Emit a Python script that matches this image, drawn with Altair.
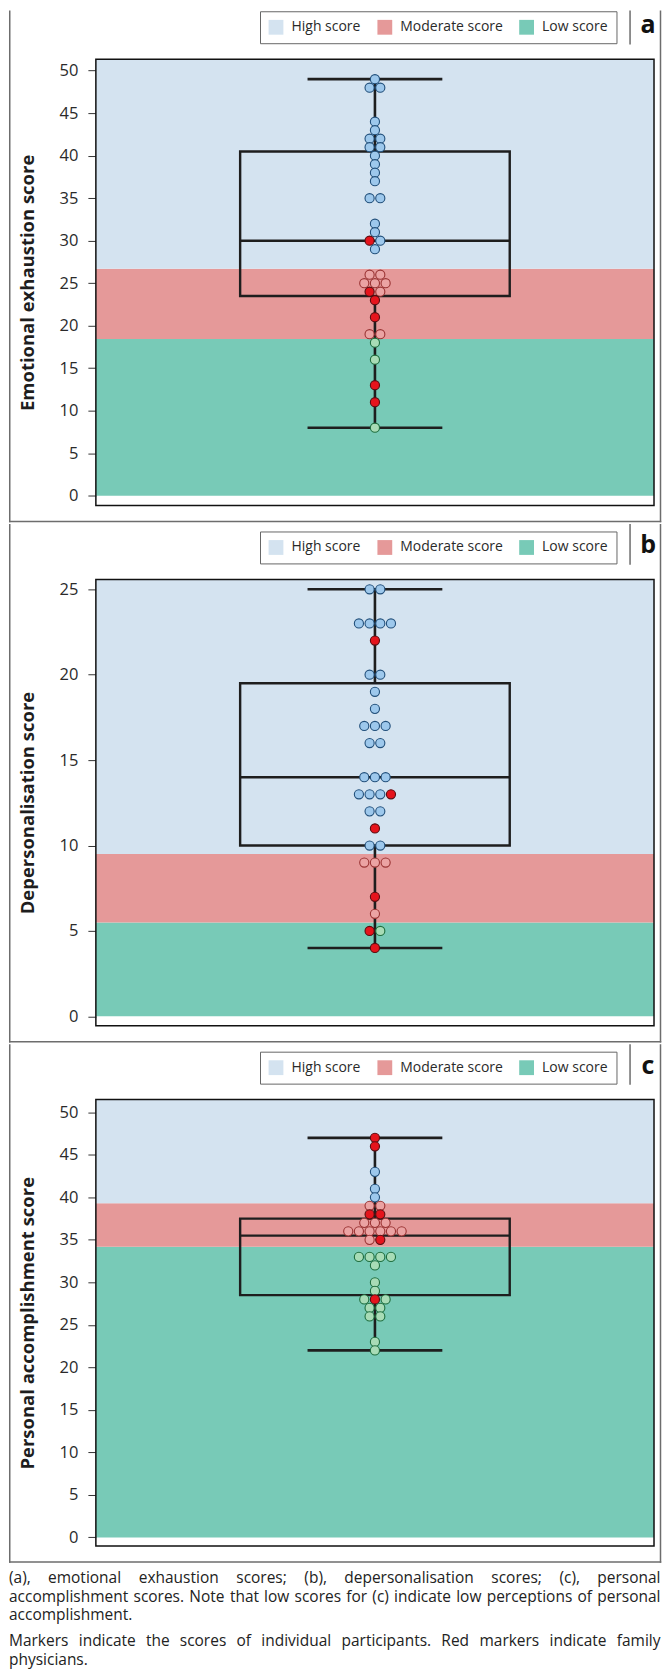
import altair as alt
import numpy as np
import pandas as pd

FONT = "Open Sans"

# ---------------- data ----------------
panel_letters = ["a", "b", "c"]
axis_titles = ["Emotional exhaustion score", "Depersonalisation score",
               "Personal accomplishment score"]

scores_a = [49, 48, 48, 44, 43, 42, 42, 41, 41, 40, 39, 38, 37, 35, 35, 32, 31, 30, 30, 29,
            26, 26, 25, 25, 25, 24, 24, 23, 21, 19, 19, 18, 16, 13, 11, 8]
family_a = [0] * 17 + [1, 0, 0] + [0] * 5 + [1, 0, 1, 1, 0, 0, 0, 0, 1, 1, 0]

scores_b = [25, 25, 23, 23, 23, 23, 22, 20, 20, 19, 18, 17, 17, 17, 16, 16, 14, 14, 14,
            13, 13, 13, 13, 12, 12, 11, 10, 10, 9, 9, 9, 7, 6, 5, 5, 4]
family_b = [0, 0, 0, 0, 0, 0, 1, 0, 0, 0, 0, 0, 0, 0, 0, 0, 0, 0, 0,
            0, 0, 0, 1, 0, 0, 1, 0, 0, 0, 0, 0, 1, 0, 1, 0, 1]

scores_c = [47, 46, 43, 41, 40, 39, 39, 38, 38, 37, 37, 37, 36, 36, 36, 36, 36, 36, 35, 35,
            33, 33, 33, 33, 32, 30, 29, 28, 28, 28, 27, 27, 26, 26, 23, 22]
family_c = [1, 1, 0, 0, 0, 0, 0, 1, 1] + [0] * 9 + [0, 1] + [0] * 8 + [1] + [0] * 7

# band edges: bottom of low band, low/moderate cut, moderate/high cut
band_edges_a = [0, 18.45, 26.7]
band_edges_b = [0, 5.5, 9.5]
band_edges_c = [0, 34.2, 39.3]

y_domain_a = [-1.15, 51.35]
y_domain_b = [-0.55, 25.58]
y_domain_c = [-1.0, 51.5]

tick_values_a = list(range(0, 51, 5))
tick_values_b = list(range(0, 26, 5))
tick_values_c = list(range(0, 51, 5))

zone_names = ["High score", "Moderate score", "Low score"]
band_colors = ["#d4e3f0", "#e59999", "#78cab7"]

marker_keys = ["High score", "Moderate score", "Low score", "Family physician"]
marker_fill = ["#9dc8ec", "#eba3a3", "#a8dcb6", "#e5141c"]
marker_stroke = ["#214f7a", "#9a3434", "#1f6e3e", "#5a0c10"]

caption_lines = [
    ("(a), emotional exhaustion scores; (b), depersonalisation scores; (c), personal", True),
    ("accomplishment scores. Note that low scores for (c) indicate low perceptions of personal", True),
    ("accomplishment.", False),
    ("Markers indicate the scores of individual participants. Red markers indicate family", True),
    ("physicians.", False),
]

# ---------------- layout constants ----------------
W = 559          # plot width
H = 447          # plot height
SLOT_PX = 10.7   # horizontal spacing of swarm markers
BOX_HALF = 135
CAP_HALF = 67.5
FRAME = "#6d6d6d"
LINE = "#1e1e1e"
LEFT_X = -86.25
RIGHT_X = 565.5

panels = [
    (scores_a, family_a, band_edges_a, y_domain_a, tick_values_a, -48.0),
    (scores_b, family_b, band_edges_b, y_domain_b, tick_values_b, -54.75),
    (scores_c, family_c, band_edges_c, y_domain_c, tick_values_c, -54.75),
]


def zone_of(v, edges):
    if v > edges[2]:
        return "High score"
    if v > edges[1]:
        return "Moderate score"
    return "Low score"


def tukey(vals):
    s = np.sort(np.asarray(vals, dtype=float))
    n = len(s)
    lower = s[: (n + 1) // 2]
    upper = s[n // 2:]
    return dict(lo=s[0], q1=float(np.median(lower)), med=float(np.median(s)),
                q3=float(np.median(upper)), hi=s[-1])


one = pd.DataFrame({"k": [0]})


def vline(x, y1, y2, color=FRAME, width=1.5):
    return alt.Chart(one).mark_rule(color=color, strokeWidth=width, strokeCap="square").encode(
        x=alt.value(x), y=alt.value(y1), y2=alt.value(y2))


def hline(y, x1, x2, color=FRAME, width=1.5):
    return alt.Chart(one).mark_rule(color=color, strokeWidth=width, strokeCap="square").encode(
        x=alt.value(x1), x2=alt.value(x2), y=alt.value(y))


def make_panel(i):
    vals, fam, edges, ydom, ticks, top_rel = panels[i]
    letter = panel_letters[i]

    pts = pd.DataFrame({"score": vals, "fp": fam})
    pts["marker"] = [("Family physician" if f else zone_of(v, edges)) for v, f in zip(vals, fam)]
    cnt = pts.groupby("score")["score"].transform("size")
    pts["slot"] = pts.groupby("score").cumcount() - (cnt - 1) / 2.0
    pts["dx"] = pts["slot"] * SLOT_PX

    bands = pd.DataFrame({
        "zone": ["Low score", "Moderate score", "High score"],
        "lo": [edges[0], edges[1], edges[2]],
        "hi": [edges[1], edges[2], ydom[1]],
    })

    st = tukey(vals)
    box_df = pd.DataFrame([st])
    whisk_df = pd.DataFrame({"a": [st["lo"], st["q3"]], "b": [st["q1"], st["hi"]]})
    cap_df = pd.DataFrame({"v": [st["lo"], st["hi"]]})

    yscale = alt.Scale(domain=ydom, nice=False, zero=False)
    yaxis = alt.Axis(
        values=ticks, title=axis_titles[i], grid=False, domain=False,
        tickSize=8, tickColor="#333", tickWidth=1, labelPadding=10,
        labelFont=FONT, labelFontSize=16.5, labelColor="#2a2a2a",
        titleFont=FONT, titleFontSize=18.5, titleFontWeight="bold", titleColor="#1e1e1e",
        titleX=-68.5, titleY=H / 2, titleAngle=270, titleBaseline="middle", titleAlign="center",
    )

    legend = alt.Legend(
        title=None, orient="none", legendX=164.4, legendY=-48.0, direction="horizontal",
        symbolType="square", symbolSize=220, symbolStrokeWidth=0,
        labelFont=FONT, labelFontSize=14, labelColor="#2a2a2a", labelOffset=8,
        padding=8.5, strokeColor="#666", fillColor="white", columnPadding=16,
    )

    band_layer = alt.Chart(bands).mark_rect().encode(
        x=alt.value(0), x2=alt.value(W),
        y=alt.Y("lo:Q", scale=yscale, axis=yaxis), y2="hi:Q",
        color=alt.Color("zone:N", scale=alt.Scale(domain=zone_names, range=band_colors),
                        legend=legend),
    )

    box_layer = alt.Chart(box_df).mark_rect(fillOpacity=0, stroke=LINE, strokeWidth=2.4).encode(
        x=alt.value(W / 2 - BOX_HALF), x2=alt.value(W / 2 + BOX_HALF),
        y=alt.Y("q1:Q", scale=yscale, axis=yaxis), y2="q3:Q",
    )
    med_layer = alt.Chart(box_df).mark_rule(color=LINE, strokeWidth=2.4).encode(
        x=alt.value(W / 2 - BOX_HALF), x2=alt.value(W / 2 + BOX_HALF),
        y=alt.Y("med:Q", scale=yscale, axis=yaxis),
    )
    whisk_layer = alt.Chart(whisk_df).mark_rule(color=LINE, strokeWidth=2.6).encode(
        x=alt.value(W / 2), y=alt.Y("a:Q", scale=yscale, axis=yaxis), y2="b:Q",
    )
    cap_layer = alt.Chart(cap_df).mark_rule(color=LINE, strokeWidth=2.6).encode(
        x=alt.value(W / 2 - CAP_HALF), x2=alt.value(W / 2 + CAP_HALF),
        y=alt.Y("v:Q", scale=yscale, axis=yaxis),
    )
    pt_layer = alt.Chart(pts).mark_circle(size=84, strokeWidth=1.1, opacity=1).encode(
        x=alt.X("dx:Q", scale=alt.Scale(domain=[-W / 2, W / 2]), axis=None),
        y=alt.Y("score:Q", scale=yscale, axis=yaxis),
        fill=alt.Fill("marker:N", scale=alt.Scale(domain=marker_keys, range=marker_fill), legend=None),
        stroke=alt.Stroke("marker:N", scale=alt.Scale(domain=marker_keys, range=marker_stroke), legend=None),
    )
    border = alt.Chart(one).mark_rect(fillOpacity=0, stroke="#111", strokeWidth=1.5).encode(
        x=alt.value(0), x2=alt.value(W), y=alt.value(0), y2=alt.value(H))

    letter_layer = alt.Chart(one).mark_text(
        font=FONT, fontSize=25, fontWeight="bold", color="#111", align="center", baseline="alphabetic"
    ).encode(x=alt.value(553), y=alt.value(-26.0), text=alt.value(letter))

    bottom = H + 16
    frame = [
        vline(LEFT_X, top_rel, bottom),
        vline(RIGHT_X, top_rel, bottom),
        hline(bottom, LEFT_X, RIGHT_X),
        vline(535, top_rel, -15.5),
    ]

    return alt.layer(band_layer, box_layer, med_layer, whisk_layer, cap_layer, pt_layer,
                     border, letter_layer, *frame).properties(width=W, height=H)


# ---------------- caption (justified by word placement) ----------------
CW = {
    ' ': 0.260, '(': 0.296, ')': 0.296, ',': 0.245, '.': 0.266, ';': 0.266,
    'a': 0.556, 'b': 0.613, 'c': 0.476, 'd': 0.613, 'e': 0.561, 'f': 0.339, 'g': 0.548,
    'h': 0.614, 'i': 0.253, 'j': 0.253, 'k': 0.525, 'l': 0.253, 'm': 0.930, 'n': 0.614,
    'o': 0.604, 'p': 0.613, 'q': 0.613, 'r': 0.408, 's': 0.477, 't': 0.353, 'u': 0.614,
    'v': 0.501, 'w': 0.778, 'x': 0.524, 'y': 0.502, 'z': 0.457, 'M': 0.913, 'N': 0.770,
    'R': 0.630,
}
CAP_FS = 15.5
CAP_L, CAP_R = -87.0, 565.5
cap_baselines = [19.5, 38.5, 56.5, 82.5, 101.0]


def wwidth(w):
    return sum(CW.get(ch, 0.55) for ch in w) * CAP_FS


left_rows, right_rows = [], []
for (line, just), yb in zip(caption_lines, cap_baselines):
    words = line.split(" ")
    if just and len(words) > 1:
        widths = [wwidth(w) for w in words]
        gap = (CAP_R - CAP_L - sum(widths)) / (len(words) - 1)
        x = CAP_L
        for k, (w, wd) in enumerate(zip(words, widths)):
            if k == len(words) - 1:
                right_rows.append({"x": CAP_R, "y": yb, "t": w})
            else:
                left_rows.append({"x": x, "y": yb, "t": w})
            x += wd + gap
    else:
        left_rows.append({"x": CAP_L, "y": yb, "t": line})

cap_base = dict(font=FONT, fontSize=CAP_FS, color="#222", baseline="alphabetic")
cap_left = alt.Chart(pd.DataFrame(left_rows)).mark_text(align="left", **cap_base).encode(
    x=alt.X("x:Q", scale=None, axis=None), y=alt.Y("y:Q", scale=None, axis=None), text="t:N")
cap_right = alt.Chart(pd.DataFrame(right_rows)).mark_text(align="right", **cap_base).encode(
    x=alt.X("x:Q", scale=None, axis=None), y=alt.Y("y:Q", scale=None, axis=None), text="t:N")
caption = alt.layer(cap_left, cap_right).properties(width=W, height=100)

chart = alt.vconcat(make_panel(0), make_panel(1), make_panel(2), caption, spacing=0).resolve_scale(
    color="independent").resolve_legend(color="independent").properties(
    padding=0, background="white").configure_view(stroke=None)

chart.save("out.html", embed_options={"renderer": "svg", "actions": False})
